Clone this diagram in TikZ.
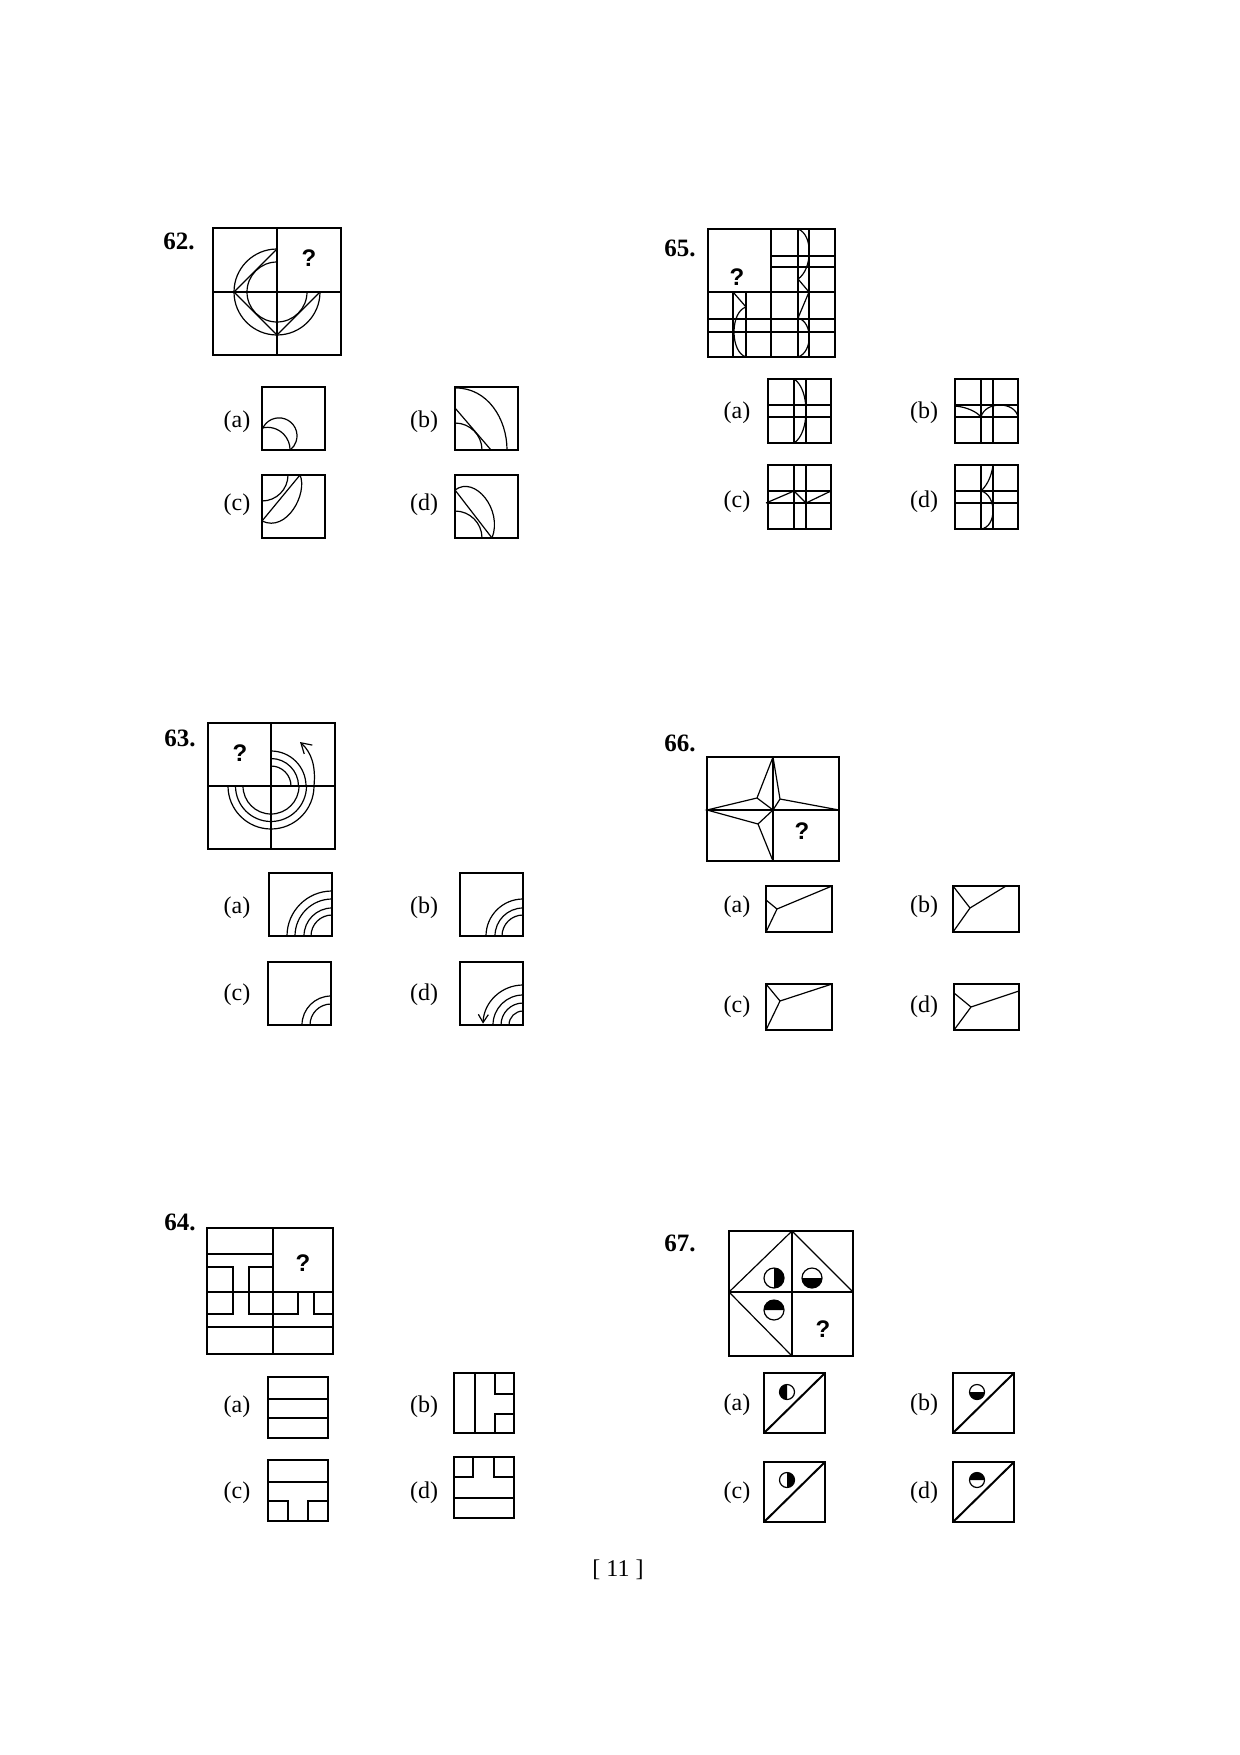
\documentclass[tikz,border=0pt]{standalone}
\usepackage{fontspec}
\setmainfont{Liberation Serif}
\setsansfont{Liberation Sans}
\usetikzlibrary{arrows.meta}
\newcommand\halfdisc[4]{%
  \fill (#1,#2) -- ++(#4:#3) arc[start angle=#4, end angle=#4+180, radius=#3] -- cycle;
  \draw (#1,#2) circle[radius=#3];}
\begin{document}
\begin{tikzpicture}[x=0.5pt, y=-0.5pt, line width=0.6pt,
    num/.style={font=\bfseries\fontsize{12.5}{14}\selectfont},
    opt/.style={font=\fontsize{12}{14}\selectfont},
    qm/.style={font=\sffamily\bfseries\fontsize{12}{14}\selectfont}]
  \useasboundingbox[fill=white] (0,0) rectangle (1240,1755);
  % ---------- 62 ----------
  \node[num] (n62) at (179,241) {62.};
  \draw (213,228) rectangle (341,355);
  \draw (277,228) -- (277,355) (213,292) -- (341,292);
  \draw (277,249) arc[start angle=-90, end angle=-360, radius=43];
  \draw (277,262) arc[start angle=-90, end angle=-360, radius=30];
  \draw (277,249) -- (234,292) -- (277,335) -- (320,292);
  \node[qm] (q62) at (309,258) {?};
  \node[opt] (a62) at (237,422) {(a)};
  \node[opt] (b62) at (424,422) {(b)};
  \node[opt] (c62) at (237,505) {(c)};
  \node[opt] (d62) at (424,505) {(d)};
  \begin{scope}[shift={(262,387)}]
    \draw (0,0) rectangle (63,63);
    \draw (0,43) arc[start angle=-161, end angle=51, radius=18];
    \draw (0,41) arc[start angle=-104, end angle=0, radius=22.6];
  \end{scope}
  \begin{scope}[shift={(455,387)}]
    \draw (0,0) rectangle (63,63);
    \draw (1,1) to[out=0, in=90] (52,63);
    \draw (0,21) -- (36,63);
    \draw (0,36) arc[start angle=-90, end angle=0, radius=27];
  \end{scope}
  \begin{scope}[shift={(262,475)}]
    \draw (0,0) rectangle (63,63);
    \draw (0,46) -- (38,0);
    \draw (38,0) .. controls (46,18) and (25,58) .. (0,46);
    \draw (26,0) arc[start angle=0, end angle=90, radius=26];
  \end{scope}
  \begin{scope}[shift={(455,475)}]
    \draw (0,0) rectangle (63,63);
    \draw (0,15) -- (37,63);
    \draw (0,15) .. controls (20,0) and (48,35) .. (37,63);
    \draw (0,36) arc[start angle=-90, end angle=0, radius=27];
  \end{scope}
  % ---------- 65 ----------
  \node[num] (n65) at (680,248) {65.};
  \draw (708,229) rectangle (835,357);
  \draw (771,229) -- (771,357) (708,292) -- (835,292);
  \draw (798,229) -- (798,357) (809,229) -- (809,357);
  \draw (771,256) -- (835,256) (771,267) -- (835,267);
  \draw (708,319) -- (835,319) (708,332) -- (835,332);
  \draw (733,292) -- (733,357) (746,292) -- (746,357);
  \draw (798,229) .. controls (814,235) and (812,270) .. (798,279) -- (809,292) -- (798,318)
        .. controls (813,322) and (813,352) .. (798,357);
  \draw (733,292) -- (746,307) .. controls (730,312) and (730,352) .. (746,357);
  \node[qm] (q65) at (737,277) {?};
  \node[opt] (a65) at (737,413) {(a)};
  \node[opt] (b65) at (924,413) {(b)};
  \node[opt] (c65) at (737,502) {(c)};
  \node[opt] (d65) at (924,502) {(d)};
  \foreach \ox/\oy in {768/379, 955/379, 768/465, 955/465}{
    \begin{scope}[shift={(\ox,\oy)}]
      \draw (0,0) rectangle (63,64);
      \draw (26,0) -- (26,64) (38,0) -- (38,64) (0,26) -- (63,26) (0,38) -- (63,38);
    \end{scope}
  }
  \draw[shift={(768,379)}] (26,0) .. controls (42,10) and (42,54) .. (26,64);
  \draw[shift={(955,379)}] (0,27) .. controls (12,28) and (22,33) .. (26,38)
        .. controls (30,22) and (60,22) .. (63,38);
  \draw[shift={(768,465)}] (-2,38) -- (26,26) -- (38,38) -- (63,26);
  \draw[shift={(955,465)}] (38,0) .. controls (36,15) and (30,22) .. (26,26)
        .. controls (42,30) and (42,62) .. (26,64);
  % ---------- 63 ----------
  \node[num] (n63) at (180,738) {63.};
  \draw (208,723) rectangle (335,849);
  \draw (271,723) -- (271,849) (208,786) -- (335,786);
  \foreach \r in {28,35.5,43}{
    \draw (271-\r,786) arc[start angle=180, end angle=0, radius=\r];
  }
  \foreach \r in {20,27.5,35}{
    \draw (271,786-\r) arc[start angle=-90, end angle=0, radius=\r];
  }
  \draw[-{Straight Barb[length=5pt,width=6pt]}] (314,786) .. controls (316,765) and (311,752) .. (300,742);
  \node[qm] (q63) at (240,753) {?};
  \node[opt] (a63) at (237,908) {(a)};
  \node[opt] (b63) at (424,908) {(b)};
  \node[opt] (c63) at (237,995) {(c)};
  \node[opt] (d63) at (424,995) {(d)};
  \begin{scope}[shift={(269,873)}]
    \draw (0,0) rectangle (63,63);
    \draw[line width=1pt] (63,0) -- (63,63) -- (0,63);
    \foreach \r in {21,28,37,45} \draw (63-\r,63) arc[start angle=180, end angle=270, radius=\r];
  \end{scope}
  \begin{scope}[shift={(460,873)}]
    \draw (0,0) rectangle (63,63);
    \draw[line width=1pt] (63,0) -- (63,63) -- (0,63);
    \foreach \r in {21,28,37} \draw (63-\r,63) arc[start angle=180, end angle=270, radius=\r];
  \end{scope}
  \begin{scope}[shift={(268,962)}]
    \draw (0,0) rectangle (63,63);
    \draw[line width=1pt] (63,0) -- (63,63) -- (0,63);
    \foreach \r in {21,29} \draw (63-\r,63) arc[start angle=180, end angle=270, radius=\r];
  \end{scope}
  \begin{scope}[shift={(460,962)}]
    \draw (0,0) rectangle (63,63);
    \draw[line width=1pt] (63,0) -- (63,63) -- (0,63);
    \foreach \r in {14,22,30} \draw (63-\r,63) arc[start angle=180, end angle=270, radius=\r];
    \draw[-{Straight Barb[length=4pt,width=5pt]}] (63,23) arc[start angle=-90, end angle=-178, radius=40];
  \end{scope}
  % ---------- 66 ----------
  \node[num] (n66) at (680,743) {66.};
  \draw (707,757) rectangle (839,861);
  \draw (773,757) -- (773,861) (707,810) -- (839,810);
  \draw (773,757) -- (757,798) -- (707,810) -- (758,824) -- (773,861);
  \draw (773,757) -- (780,799) -- (839,810);
  \draw (757,798) -- (773,810) (780,799) -- (773,810) (758,824) -- (773,810);
  \node[qm] (q66) at (802,831) {?};
  \node[opt] (a66) at (737,907) {(a)};
  \node[opt] (b66) at (924,907) {(b)};
  \node[opt] (c66) at (737,1007) {(c)};
  \node[opt] (d66) at (924,1007) {(d)};
  \begin{scope}[shift={(766,886)}]
    \draw (0,0) rectangle (66,46);
    \draw (0,14) -- (11,23) -- (0,46) (11,23) -- (66,0);
  \end{scope}
  \begin{scope}[shift={(953,886)}]
    \draw (0,0) rectangle (66,46);
    \draw (0,0) -- (17,22) -- (0,46) (17,22) -- (53,0);
  \end{scope}
  \begin{scope}[shift={(766,984)}]
    \draw (0,0) rectangle (66,46);
    \draw (0,0) -- (14,17) -- (0,46) (14,17) -- (66,0);
  \end{scope}
  \begin{scope}[shift={(954,984)}]
    \draw (0,0) rectangle (65,46);
    \draw (0,9) -- (17,23) -- (0,46) (17,23) -- (65,7);
  \end{scope}
  % ---------- 64 ----------
  \node[num] (n64) at (180,1222) {64.};
  \draw (207,1228) rectangle (333,1354);
  \draw (273,1228) -- (273,1354) (207,1254) -- (273,1254);
  \draw (207,1292) -- (333,1292) (207,1327) -- (333,1327);
  \draw (207,1267) -- (233,1267) -- (233,1314) -- (207,1314);
  \draw (273,1267) -- (249,1267) -- (249,1314) -- (298,1314) -- (298,1292);
  \draw (314,1292) -- (314,1314) -- (333,1314);
  \node[qm] (q64) at (303,1263) {?};
  \node[opt] (a64) at (237,1407) {(a)};
  \node[opt] (b64) at (424,1407) {(b)};
  \node[opt] (c64) at (237,1493) {(c)};
  \node[opt] (d64) at (424,1493) {(d)};
  \begin{scope}[shift={(268,1377)}]
    \draw (0,0) rectangle (60,61);
    \draw (0,22) -- (60,22) (0,41) -- (60,41);
  \end{scope}
  \begin{scope}[shift={(454,1373)}]
    \draw (0,0) rectangle (60,60);
    \draw (21,0) -- (21,60) (41,0) -- (41,21) -- (60,21) (41,60) -- (41,41) -- (60,41);
  \end{scope}
  \begin{scope}[shift={(268,1460)}]
    \draw (0,0) rectangle (60,61);
    \draw (0,22) -- (60,22) (0,41) -- (20,41) -- (20,61) (60,41) -- (40,41) -- (40,61);
  \end{scope}
  \begin{scope}[shift={(454,1457)}]
    \draw (0,0) rectangle (60,61);
    \draw (19,0) -- (19,20) -- (0,20) (40,0) -- (40,20) -- (60,20) (0,41) -- (60,41);
  \end{scope}
  % ---------- 67 ----------
  \node[num] (n67) at (680,1243) {67.};
  \draw (729,1231) rectangle (853,1356);
  \draw (792,1231) -- (792,1356) (729,1292) -- (853,1292);
  \draw (729,1292) -- (792,1231) -- (853,1292) (729,1292) -- (792,1356);
  \halfdisc{774}{1278}{10}{-90}
  \halfdisc{812}{1278}{10}{0}
  \halfdisc{774}{1310}{10}{180}
  \node[qm] (q67) at (823,1329) {?};
  \node[opt] (a67) at (737,1405) {(a)};
  \node[opt] (b67) at (924,1405) {(b)};
  \node[opt] (c67) at (737,1493) {(c)};
  \node[opt] (d67) at (924,1493) {(d)};
  \foreach \ox/\oy in {764/1373, 953/1373, 764/1462, 953/1462}{
    \draw[line width=1.2pt] (\ox,\oy) rectangle ++(61,60);
    \draw[line width=1pt] (\ox,\oy+60) -- ++(61,-60);
  }
  \halfdisc{787}{1392}{7.5}{90}
  \halfdisc{977}{1392}{7.5}{0}
  \halfdisc{787}{1480}{7.5}{-90}
  \halfdisc{977}{1480}{7.5}{180}
  % page number
  \node[opt] (page) at (618,1570) {[ 11 ]};
\end{tikzpicture}
\end{document}
